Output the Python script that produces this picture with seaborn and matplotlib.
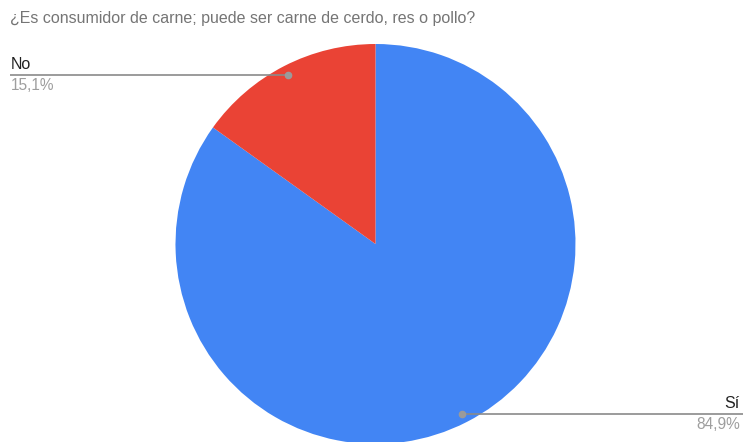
import matplotlib
matplotlib.use("Agg")
import matplotlib.pyplot as plt
import seaborn as sns

sns.set_theme(style="white")
plt.rcParams["font.family"] = ["Liberation Sans", "DejaVu Sans"]

title = "¿Es consumidor de carne; puede ser carne de cerdo, res o pollo?"
categories = ["Sí", "No"]
shares = [84.9, 15.1]
colors = ["#4285F4", "#EA4335"]

W, H = 743, 442
fig = plt.figure(figsize=(W / 100, H / 100), dpi=100)
ax = fig.add_axes([0, 0, 1, 1])

cx, cy, r = 375.5, H - 244, 200
ax.pie(shares, colors=colors, startangle=90, counterclock=False,
       center=(cx, cy), radius=r, wedgeprops=dict(linewidth=0))
ax.set_xlim(0, W)
ax.set_ylim(0, H)
ax.set_aspect("equal")
ax.axis("off")

line_c = "#8a8a8a"
dot_c = "#9a9a9a"

# Leader for "No"
y_no = H - 75
ax.plot([10, 288], [y_no, y_no], color=line_c, lw=1.2, solid_capstyle="butt")
ax.plot([288], [y_no], "o", color=dot_c, ms=4.5)
ax.text(11, y_no + 3, categories[1], ha="left", va="bottom", fontsize=11.5, color="#222222")
ax.text(11, y_no - 3, f"{shares[1]:.1f}%".replace(".", ","), ha="left", va="top",
        fontsize=11.2, color="#9e9e9e")

# Leader for "Sí"
y_si = H - 414
ax.plot([462, W], [y_si, y_si], color=line_c, lw=1.2, solid_capstyle="butt")
ax.plot([462], [y_si], "o", color=dot_c, ms=4.5)
ax.text(740, y_si + 3, categories[0], ha="right", va="bottom", fontsize=11.5, color="#222222")
ax.text(740, y_si - 3, f"{shares[0]:.1f}%".replace(".", ","), ha="right", va="top",
        fontsize=11.2, color="#9e9e9e")

fig.text(10 / W, 1 - 18 / H, title, ha="left", va="center", fontsize=11.5, color="#757575")

fig.savefig("out.png", dpi=100)
